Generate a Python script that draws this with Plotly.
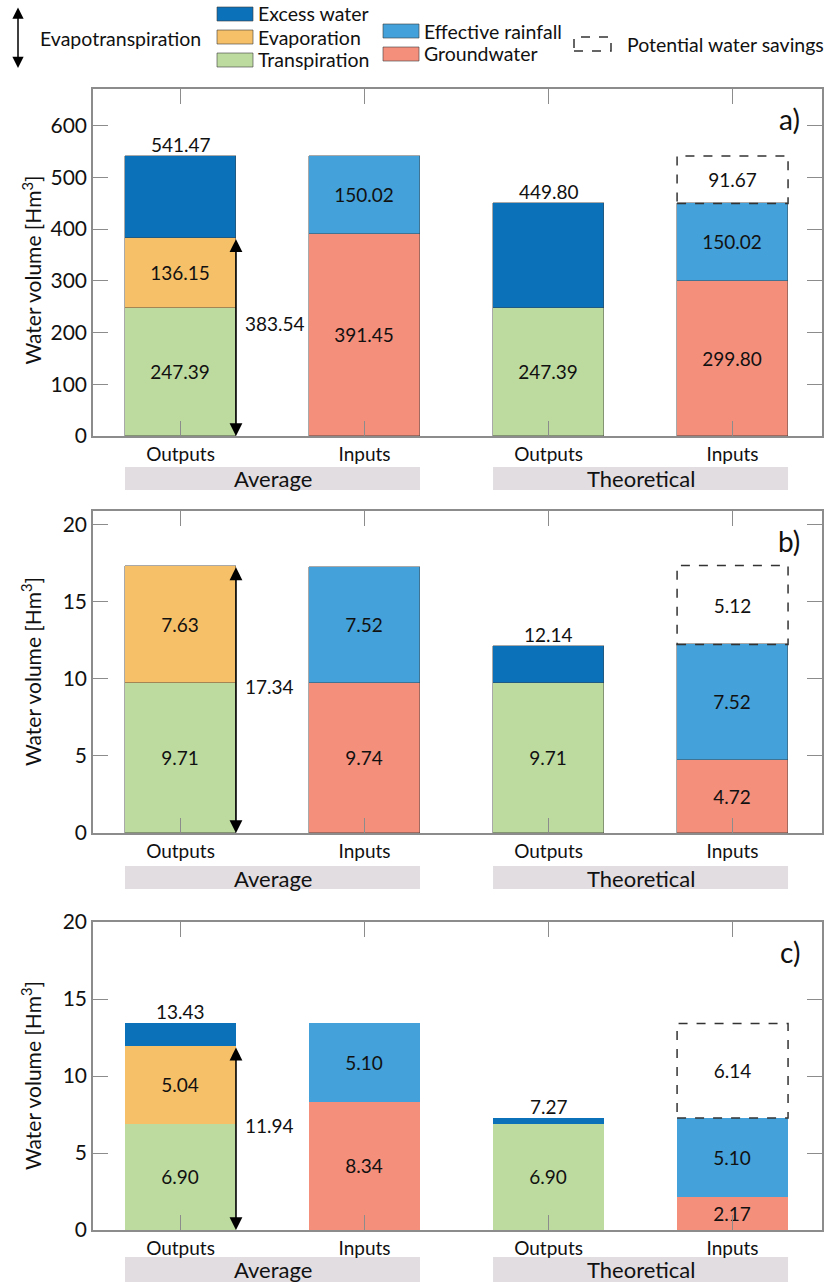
import plotly.graph_objects as go

W, H = 829, 1282

# ---------------- data ----------------
categories = ["Outputs", "Inputs", "Outputs", "Inputs"]
groups = ["Average", "Theoretical"]
panel_letters = ["a)", "b)", "c)"]

a_transpiration = [247.39, None, 247.39, None]
a_evaporation = [136.15, None, None, None]
a_excess = [157.93, None, 202.41, None]
a_groundwater = [None, 391.45, None, 299.80]
a_rainfall = [None, 150.02, None, 150.02]
a_savings = [None, None, None, 91.67]
a_totals = [541.47, None, 449.80, None]
a_et = 383.54

b_transpiration = [9.71, None, 9.71, None]
b_evaporation = [7.63, None, None, None]
b_excess = [None, None, 2.43, None]
b_groundwater = [None, 9.74, None, 4.72]
b_rainfall = [None, 7.52, None, 7.52]
b_savings = [None, None, None, 5.12]
b_totals = [None, None, 12.14, None]
b_et = 17.34

c_transpiration = [6.90, None, 6.90, None]
c_evaporation = [5.04, None, None, None]
c_excess = [1.49, None, 0.37, None]
c_groundwater = [None, 8.34, None, 2.17]
c_rainfall = [None, 5.10, None, 5.10]
c_savings = [None, None, None, 6.14]
c_totals = [13.43, None, 7.27, None]
c_et = 11.94

a_yticks = [0, 100, 200, 300, 400, 500, 600]
b_yticks = [0, 5, 10, 15, 20]
c_yticks = [0, 5, 10, 15, 20]

# ---------------- style ----------------
FONT = "Lato"
COL = {
    "Excess water": "#0b71b9",
    "Evaporation": "#f6c068",
    "Transpiration": "#bddb9f",
    "Effective rainfall": "#44a1d9",
    "Groundwater": "#f48f7c",
}
AXIS_COL = "#8c8c8c"
GROUP_COL = "#e1dde1"
BAR_W = 0.603
XRANGE = [-0.4755, 3.486]


def px_x(p):
    return p / W


def px_y(p):
    return 1 - p / H


panels = [
    dict(tr=a_transpiration, ev=a_evaporation, ex=a_excess, gw=a_groundwater,
         ra=a_rainfall, sv=a_savings, tot=a_totals, et=a_et, yt=a_yticks,
         yr=[0, 671], dom=(436, 89), grp=(467, 490), outline="rgba(60,60,60,0.55)", ytitle_shift=8),
    dict(tr=b_transpiration, ev=b_evaporation, ex=b_excess, gw=b_groundwater,
         ra=b_rainfall, sv=b_savings, tot=b_totals, et=b_et, yt=b_yticks,
         yr=[0, 20.9], dom=(833, 511), grp=(866, 889), outline="rgba(60,60,60,0.55)", ytitle_shift=0),
    dict(tr=c_transpiration, ev=c_evaporation, ex=c_excess, gw=c_groundwater,
         ra=c_rainfall, sv=c_savings, tot=c_totals, et=c_et, yt=c_yticks,
         yr=[0, 20], dom=(1230, 922), grp=(1257, 1282), outline="rgba(0,0,0,0)", ytitle_shift=0),
]

fig = go.Figure()
shapes = []
annotations = []
x_idx = [0, 1, 2, 3]


def fmt(vals):
    return ["" if v is None else f"{v:.2f}" for v in vals]


for i, p in enumerate(panels, start=1):
    xa = "x" if i == 1 else f"x{i}"
    ya = "y" if i == 1 else f"y{i}"
    series = [
        ("Transpiration", p["tr"], COL["Transpiration"], True),
        ("Evaporation", p["ev"], COL["Evaporation"], True),
        ("Excess water", p["ex"], COL["Excess water"], False),
        ("Groundwater", p["gw"], COL["Groundwater"], True),
        ("Effective rainfall", p["ra"], COL["Effective rainfall"], True),
    ]
    for name, vals, color, show_text in series:
        fig.add_trace(go.Bar(
            x=x_idx, y=vals, name=name, xaxis=xa, yaxis=ya, width=BAR_W,
            marker=dict(color=color, line=dict(color=p["outline"], width=0.8)),
            text=fmt(vals) if show_text else None,
            textposition="inside", insidetextanchor="middle", textangle=0,
            constraintext="none",
            textfont=dict(family=FONT, size=19, color="#111"),
            showlegend=False, hoverinfo="skip",
        ))
    # potential water savings (transparent bar carrying its label)
    fig.add_trace(go.Bar(
        x=x_idx, y=p["sv"], name="Potential water savings", xaxis=xa, yaxis=ya,
        width=BAR_W, marker=dict(color="rgba(0,0,0,0)", line=dict(width=0)),
        text=fmt(p["sv"]), textposition="inside", insidetextanchor="middle",
        textangle=0, constraintext="none",
        textfont=dict(family=FONT, size=19, color="#111"),
        showlegend=False, hoverinfo="skip",
    ))
    for k, sv in enumerate(p["sv"]):
        if sv is None:
            continue
        base = (p["gw"][k] or 0) + (p["ra"][k] or 0)
        shapes.append(dict(type="rect", xref=xa, yref=ya,
                           x0=k - BAR_W / 2, x1=k + BAR_W / 2, y0=base, y1=base + sv,
                           line=dict(color="#333", width=1.5, dash="dash"),
                           fillcolor="rgba(0,0,0,0)", layer="above"))
    # totals above output bars
    for k, tot in enumerate(p["tot"]):
        if tot is None:
            continue
        annotations.append(dict(xref=xa, yref=ya, x=k, y=tot, text=f"{tot:.2f}",
                                showarrow=False, yanchor="bottom", yshift=-2,
                                font=dict(family=FONT, size=19, color="#111")))
    # evapotranspiration arrow
    annotations.append(dict(xref=xa, yref=ya, axref=xa, ayref=ya,
                            x=BAR_W / 2, y=0, ax=BAR_W / 2, ay=p["et"], text="",
                            showarrow=True, arrowhead=2, startarrowhead=2,
                            arrowside="end+start", arrowsize=1.6, startarrowsize=1.6,
                            arrowwidth=1.6, arrowcolor="#000"))
    annotations.append(dict(xref=xa, yref=ya, x=BAR_W / 2, y=p["et"] / 2,
                            text=f"{p['et']:.2f}", showarrow=False, xanchor="left",
                            xshift=7, yshift=13,
                            font=dict(family=FONT, size=19, color="#111")))
    # group boxes
    g0, g1 = p["grp"]
    for gi, gname in enumerate(groups):
        c0 = 2 * gi
        shapes.append(dict(type="rect", xref=xa, yref="paper",
                           x0=c0 - BAR_W / 2, x1=c0 + 1 + BAR_W / 2,
                           y0=px_y(g1), y1=px_y(g0), line=dict(width=0),
                           fillcolor=GROUP_COL, layer="below"))
        annotations.append(dict(xref=xa, yref="paper", x=c0 + 0.5,
                                y=px_y(g0 + 12), text=gname,
                                showarrow=False, yanchor="middle",
                                font=dict(family=FONT, size=22, color="#111")))
    # panel letter
    annotations.append(dict(xref="paper", yref="paper", x=px_x(802),
                            y=px_y(p["dom"][1] + 30), text=panel_letters[i - 1],
                            showarrow=False, xanchor="right", yanchor="middle",
                            font=dict(family=FONT, size=28, color="#111")))
    # y title
    annotations.append(dict(xref="paper", yref="paper", x=px_x(31),
                            y=px_y((p["dom"][0] + p["dom"][1]) / 2 + p["ytitle_shift"]),
                            text="Water volume [Hm<sup>3</sup>]", textangle=-90,
                            showarrow=False, xanchor="center", yanchor="middle",
                            font=dict(family=FONT, size=21, color="#111")))

    ax_common = dict(showline=True, linecolor=AXIS_COL, linewidth=1.5, mirror="ticks",
                     ticks="inside", ticklen=15, tickwidth=1.2, tickcolor=AXIS_COL,
                     showgrid=False, zeroline=False, layer="above traces",
                     automargin=False)
    fig.layout[f"xaxis{'' if i == 1 else i}"] = dict(
        ax_common, domain=[px_x(93), px_x(822)], range=XRANGE, tickmode="array",
        tickvals=x_idx, ticktext=categories, anchor=ya,
        tickfont=dict(family=FONT, size=19, color="#111"))
    fig.layout[f"yaxis{'' if i == 1 else i}"] = dict(
        ax_common, domain=[px_y(p["dom"][0]), px_y(p["dom"][1])], range=p["yr"],
        tickmode="array", tickvals=p["yt"], anchor=xa,
        tickfont=dict(family=FONT, size=21, color="#111"))

# ---------------- legend (drawn manually) ----------------
LFONT = dict(family=FONT, size=19.5, color="#111")
annotations.append(dict(xref="paper", yref="paper", x=px_x(18), y=px_y(68), ax=0, ay=-62,
                        text="", showarrow=True, arrowhead=2, startarrowhead=2,
                        arrowside="end+start", arrowsize=1.5, startarrowsize=1.5,
                        arrowwidth=1.5, arrowcolor="#000"))
annotations.append(dict(xref="paper", yref="paper", x=px_x(38), y=px_y(38),
                        text="Evapotranspiration", showarrow=False, xanchor="left",
                        yanchor="middle", font=LFONT))
legend_items = [
    ("Excess water", 217, 14),
    ("Evaporation", 217, 37),
    ("Transpiration", 217, 60),
    ("Effective rainfall", 383, 31),
    ("Groundwater", 383, 54),
]
for name, lx, ly in legend_items:
    shapes.append(dict(type="rect", xref="paper", yref="paper",
                       x0=px_x(lx), x1=px_x(lx + 36), y0=px_y(ly + 7), y1=px_y(ly - 7),
                       fillcolor=COL[name], line=dict(color="rgba(60,60,60,0.6)", width=1)))
    annotations.append(dict(xref="paper", yref="paper", x=px_x(lx + 39), y=px_y(ly),
                            text=name, showarrow=False, xanchor="left", yanchor="middle",
                            font=LFONT))
shapes.append(dict(type="rect", xref="paper", yref="paper",
                   x0=px_x(574), x1=px_x(611), y0=px_y(51), y1=px_y(37),
                   fillcolor="rgba(0,0,0,0)", line=dict(color="#333", width=1.5, dash="dash")))
annotations.append(dict(xref="paper", yref="paper", x=px_x(625), y=px_y(44),
                        text="Potential water savings", showarrow=False, xanchor="left",
                        yanchor="middle", font=LFONT))

fig.update_layout(
    width=W, height=H, margin=dict(l=0, r=0, t=0, b=0, pad=0, autoexpand=False),
    paper_bgcolor="white", plot_bgcolor="white",
    barmode="stack", bargap=0, shapes=shapes, annotations=annotations,
    font=dict(family=FONT, color="#111"), showlegend=False,
)

fig.write_html("out.html")
